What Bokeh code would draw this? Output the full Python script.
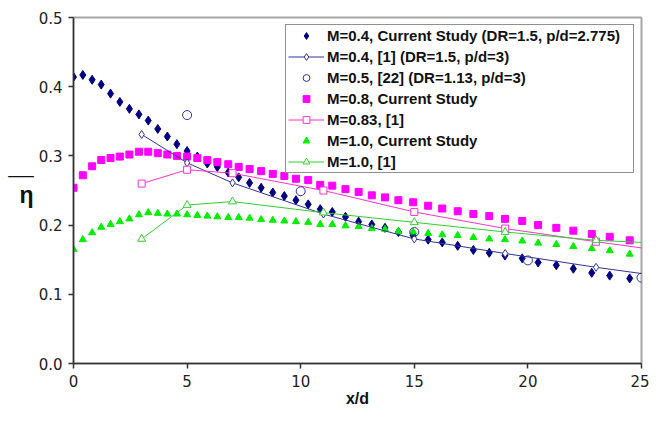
from bokeh.plotting import figure
from bokeh.models import (Range1d, FixedTicker, PrintfTickFormatter, Legend,
                          LegendItem)
from bokeh.embed import file_html
from bokeh.resources import INLINE

# ---- data ----
x_cs = [0, 0.41, 0.82, 1.22, 1.63, 2.04, 2.46, 2.88, 3.29, 3.71, 4.13, 4.55,
        5.0, 5.45, 5.89, 6.33, 6.81, 7.27, 7.75, 8.26, 8.77, 9.28, 9.79,
        10.33, 10.86, 11.39, 11.97, 12.55, 13.13, 13.71, 14.30, 14.95, 15.61,
        16.23, 16.91, 17.6, 18.3, 18.99, 19.75, 20.45, 21.25, 22.0, 22.81,
        23.6, 24.48]

eta_m04_cs = [0.414, 0.417, 0.410, 0.403, 0.390, 0.378, 0.368, 0.360, 0.351,
              0.339, 0.328, 0.317, 0.307, 0.299, 0.289, 0.284, 0.276, 0.269,
              0.261, 0.254, 0.247, 0.242, 0.236, 0.230, 0.223, 0.219, 0.212,
              0.205, 0.201, 0.196, 0.190, 0.185, 0.179, 0.175, 0.170, 0.164,
              0.160, 0.156, 0.152, 0.146, 0.142, 0.137, 0.131, 0.127, 0.123]

eta_m08_cs = [0.254, 0.272, 0.285, 0.294, 0.297, 0.299, 0.302, 0.306, 0.306,
              0.304, 0.302, 0.300, 0.299, 0.297, 0.294, 0.291, 0.288, 0.284,
              0.281, 0.278, 0.274, 0.271, 0.267, 0.265, 0.258, 0.257, 0.252,
              0.248, 0.243, 0.240, 0.236, 0.233, 0.228, 0.224, 0.220, 0.216,
              0.213, 0.209, 0.206, 0.200, 0.196, 0.192, 0.187, 0.183, 0.178]

eta_m10_cs = [0.165, 0.179, 0.189, 0.197, 0.201, 0.205, 0.209, 0.215, 0.218,
              0.217, 0.216, 0.216, 0.215, 0.214, 0.213, 0.212, 0.211, 0.211,
              0.210, 0.208, 0.207, 0.206, 0.205, 0.204, 0.201, 0.201, 0.199,
              0.198, 0.195, 0.194, 0.191, 0.190, 0.188, 0.186, 0.185, 0.182,
              0.180, 0.179, 0.177, 0.174, 0.172, 0.169, 0.166, 0.163, 0.158]

x_ref1 = [3, 5, 7, 11, 15, 19, 23, 25]
eta_m04_ref1 = [0.331, 0.290, 0.261, 0.216, 0.180, 0.159, 0.139, 0.130]
eta_m083_ref1 = [0.260, 0.280, 0.275, 0.250, 0.219, 0.195, 0.176, 0.167]
eta_m10_ref1 = [0.180, 0.229, 0.234, 0.218, 0.204, 0.190, 0.178, 0.175]

x_ref22 = [5, 10, 15, 20, 25]
eta_m05_ref22 = [0.359, 0.249, 0.190, 0.149, 0.124]

x_ticks = [0, 5, 10, 15, 20, 25]
y_ticks = [0.0, 0.1, 0.2, 0.3, 0.4, 0.5]

labels = ["M=0.4, Current Study (DR=1.5, p/d=2.775)",
          "M=0.4, [1] (DR=1.5, p/d=3)",
          "M=0.5, [22] (DR=1.13, p/d=3)",
          "M=0.8, Current Study",
          "M=0.83, [1]",
          "M=1.0, Current Study",
          "M=1.0, [1]"]

FONT = "Liberation Sans"
TICK_FONT = "DejaVu Sans"
NAVY = "#000080"
NAVY_LINE = "#333399"
MAGENTA = "#ff00ff"
MAGENTA_LINE = "#ff33cc"
GREEN = "#00ee00"
GREEN_LINE = "#33cc33"

p = figure(width=649, height=409, output_backend="svg", toolbar_location=None,
           x_range=Range1d(0, 25), y_range=Range1d(0, 0.5),
           min_border_left=73, min_border_right=8, min_border_top=17,
           min_border_bottom=40)
p.background_fill_color = "white"
p.border_fill_color = "white"
p.outline_line_color = "#a6a6a6"
p.outline_line_width = 2
p.xgrid.visible = False
p.ygrid.visible = False

for ax in (p.xaxis[0], p.yaxis[0]):
    ax.axis_line_color = "#333333"
    ax.axis_line_width = 1.5
    ax.major_tick_line_color = "#333333"
    ax.major_tick_line_width = 1.5
    ax.major_tick_in = 0
    ax.major_tick_out = 5
    ax.minor_tick_line_color = None
    ax.major_label_text_font = TICK_FONT
    ax.major_label_text_font_size = "15px"
    ax.major_label_text_color = "#222222"
    ax.axis_label_text_font = FONT
    ax.axis_label_text_font_style = "bold"
    ax.axis_label_text_color = "#111111"

p.xaxis.ticker = FixedTicker(ticks=x_ticks)
p.yaxis.ticker = FixedTicker(ticks=y_ticks)
p.yaxis.formatter = PrintfTickFormatter(format="%.1f")
p.xaxis.major_label_standoff = 6
p.yaxis.major_label_standoff = 6

p.xaxis.axis_label = "x/d"
p.xaxis.axis_label_text_font_size = "16px"
p.xaxis.axis_label_standoff = 0

# eta with an overbar: the bar line sits above the symbol
p.yaxis.axis_label = "\u00af\u00af\n\u03b7"
p.yaxis.axis_label_text_font_size = "23px"
p.yaxis.axis_label_text_line_height = 0.35
p.yaxis.axis_label_standoff = 2
p.yaxis.axis_label_orientation = "horizontal"

# current study (markers only)
r1 = p.scatter(x_cs, eta_m04_cs, marker="diamond", size=9, color=NAVY)
r4 = p.scatter(x_cs, eta_m08_cs, marker="square", size=7, color=MAGENTA)
r6 = p.scatter(x_cs, eta_m10_cs, marker="triangle", size=7, color=GREEN)

# reference [1] (lines + open markers)
l2 = p.line(x_ref1, eta_m04_ref1, line_color=NAVY_LINE, line_width=1)
s2 = p.scatter(x_ref1[:-1], eta_m04_ref1[:-1], marker="diamond", size=8,
               line_color=NAVY_LINE, fill_color="white", line_width=1)
l5 = p.line(x_ref1, eta_m083_ref1, line_color=MAGENTA_LINE, line_width=1)
s5 = p.scatter(x_ref1[:-1], eta_m083_ref1[:-1], marker="square", size=7,
               line_color=MAGENTA_LINE, fill_color="white", line_width=1)
l7 = p.line(x_ref1, eta_m10_ref1, line_color=GREEN_LINE, line_width=1)
s7 = p.scatter(x_ref1[:-1], eta_m10_ref1[:-1], marker="triangle", size=8,
               line_color=GREEN_LINE, fill_color="white", line_width=1)

# reference [22]
r3 = p.scatter(x_ref22, eta_m05_ref22, marker="circle", size=9,
               line_color=NAVY_LINE, fill_color=None, line_width=1)

legend = Legend(items=[
    LegendItem(label=labels[0], renderers=[r1]),
    LegendItem(label=labels[1], renderers=[l2, s2]),
    LegendItem(label=labels[2], renderers=[r3]),
    LegendItem(label=labels[3], renderers=[r4]),
    LegendItem(label=labels[4], renderers=[l5, s5]),
    LegendItem(label=labels[5], renderers=[r6]),
    LegendItem(label=labels[6], renderers=[l7, s7]),
], location="top_right")
legend.margin = 7
legend.padding = 2
legend.spacing = 4
legend.label_height = 17
legend.glyph_height = 17
legend.glyph_width = 36
legend.label_standoff = 3
legend.label_width = 304
legend.label_text_font = FONT
legend.label_text_font_size = "15px"
legend.label_text_font_style = "bold"
legend.label_text_color = "#111111"
legend.border_line_color = "#222222"
legend.border_line_width = 1
legend.background_fill_color = "white"
legend.background_fill_alpha = 1
p.add_layout(legend)

open("out.html", "w").write(file_html(p, INLINE))
